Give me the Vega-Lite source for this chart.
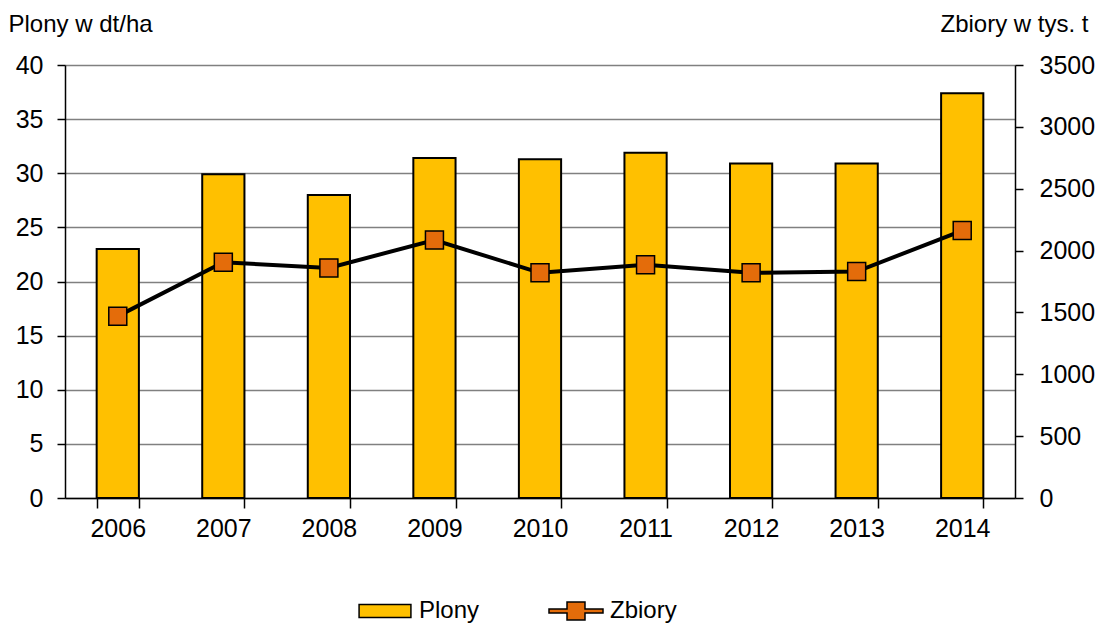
{
  "$schema": "https://vega.github.io/schema/vega-lite/v6.json",
  "width": 950,
  "height": 433,
  "autosize": {"type": "none"},
  "padding": {"left": 65, "top": 65, "right": 85, "bottom": 125},
  "background": "white",
  "config": {
    "font": "Liberation Sans",
    "view": {"stroke": null},
    "axis": {"labelColor": "black", "titleColor": "black", "labelFont": "Liberation Sans", "titleFont": "Liberation Sans"}
  },
  "data": {
    "values": [
      {"year": "2006", "plony": 23.0, "zbiory": 1470},
      {"year": "2007", "plony": 29.9, "zbiory": 1905},
      {"year": "2008", "plony": 28.0, "zbiory": 1860},
      {"year": "2009", "plony": 31.4, "zbiory": 2085},
      {"year": "2010", "plony": 31.3, "zbiory": 1820},
      {"year": "2011", "plony": 31.9, "zbiory": 1885},
      {"year": "2012", "plony": 30.9, "zbiory": 1820},
      {"year": "2013", "plony": 30.9, "zbiory": 1830},
      {"year": "2014", "plony": 37.4, "zbiory": 2162}
    ]
  },
  "encoding": {
    "x": {
      "field": "year",
      "type": "nominal",
      "scale": {"paddingInner": 0.6, "paddingOuter": 0.3},
      "axis": {
        "title": null,
        "labelAngle": 0,
        "labelFontSize": 25,
        "labelPadding": 8,
        "tickBand": "extent",
        "tickSize": 10,
        "tickColor": "black",
        "tickWidth": 1.5,
        "domainColor": "black",
        "domainWidth": 1.5,
        "grid": false
      }
    }
  },
  "layer": [
    {
      "mark": {"type": "bar", "fill": "#FFC000", "stroke": "black", "strokeWidth": 2},
      "encoding": {
        "y": {
          "field": "plony",
          "type": "quantitative",
          "scale": {"domain": [0, 40]},
          "axis": {
            "values": [0, 5, 10, 15, 20, 25, 30, 35, 40],
            "title": "Plony w dt/ha",
            "titleAngle": 0,
            "titleAlign": "left",
            "titleBaseline": "middle",
            "titleX": -57,
            "titleY": -41,
            "titleFontSize": 24,
            "titleFontWeight": "normal",
            "labelFontSize": 25,
            "labelPadding": 14,
            "tickSize": 8,
            "tickColor": "black",
            "tickWidth": 1.5,
            "domainColor": "black",
            "domainWidth": 1.5,
            "grid": true,
            "gridColor": "#808080",
            "gridWidth": 1.5
          }
        },
        "color": {
          "datum": "Plony",
          "scale": {"domain": ["Plony", "Zbiory"], "range": ["#FFC000", "#E46C0A"]},
          "legend": {
            "orient": "none",
            "direction": "horizontal",
            "legendX": 292,
            "legendY": 518,
            "title": null,
            "labelFontSize": 24,
            "labelColor": "black",
            "labelOffset": 6,
            "columnPadding": 66,
            "symbolSize": 2916,
            "symbolStrokeColor": "black",
            "symbolStrokeWidth": 1.5,
            "symbolOpacity": 1,
            "encode": {
              "symbols": {
                "update": {
                  "shape": {"signal": "datum.value === 'Plony' ? 'M-0.96,-0.24H0.96V0.24H-0.96Z' : 'M-1,-0.074H-0.333V-0.333H0.333V-0.074H1V0.074H0.333V0.333H-0.333V0.074H-1Z'"},
                  "size": {"value": 2916},
                  "stroke": {"value": "black"},
                  "strokeWidth": {"value": 1.5}
                }
              }
            }
          }
        }
      }
    },
    {
      "layer": [
        {
          "mark": {"type": "line", "stroke": "black", "strokeWidth": 4},
          "encoding": {
            "y": {
              "field": "zbiory",
              "type": "quantitative",
              "scale": {"domain": [0, 3500]},
              "axis": {
                "orient": "right",
                "values": [0, 500, 1000, 1500, 2000, 2500, 3000, 3500],
                "format": "d",
                "title": "Zbiory w tys. t",
                "titleAngle": 0,
                "titleAlign": "right",
                "titleBaseline": "middle",
                "titleX": 73,
                "titleY": -41,
                "titleFontSize": 24,
                "titleFontWeight": "normal",
                "labelFontSize": 25,
                "labelPadding": 16,
                "tickSize": 8,
                "tickColor": "black",
                "tickWidth": 1.5,
                "domainColor": "black",
                "domainWidth": 1.5,
                "grid": false
              }
            }
          }
        },
        {
          "mark": {"type": "point", "shape": "square", "filled": true, "size": 324, "stroke": "black", "strokeWidth": 1.5, "opacity": 1},
          "encoding": {
            "y": {"field": "zbiory", "type": "quantitative", "scale": {"domain": [0, 3500]}},
            "color": {"datum": "Zbiory"}
          }
        }
      ]
    }
  ],
  "resolve": {"scale": {"y": "independent"}}
}
